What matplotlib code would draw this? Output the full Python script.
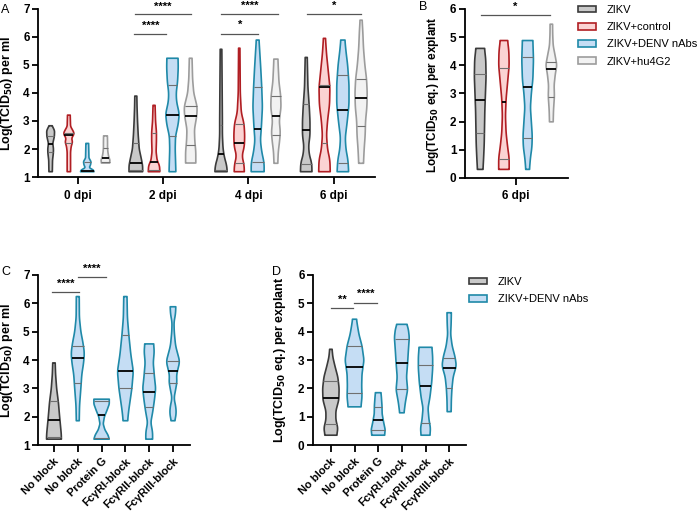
import numpy as np
import matplotlib
matplotlib.use('Agg')
import matplotlib.pyplot as plt
from matplotlib.patches import Patch

plt.rcParams['font.family'] = ['Liberation Sans', 'DejaVu Sans']
plt.rcParams['font.size'] = 8
plt.rcParams['font.weight'] = 'bold'
plt.rcParams['axes.labelweight'] = 'bold'

# ---- data -------------------------------------------------------------
days = ['0 dpi', '2 dpi', '4 dpi', '6 dpi']
groups = ['ZIKV', 'ZIKV+control', 'ZIKV+DENV nAbs', 'ZIKV+hu4G2']
blocks = ['No block', 'No block', 'Protein G', 'FcγRI-block', 'FcγRII-block', 'FcγRIII-block']

# violin outlines: (value, relative density) pairs, min -> max
# quartiles: (q1, median, q3)
a_zikv_shape = [
    [(1.19, .25), (1.6, .28), (1.85, .4), (2.0, .42), (2.2, .32), (2.45, .55), (2.65, .58), (2.8, .3), (2.83, .2)],
    [(1.19, 1.0), (1.4, 1.0), (1.6, .85), (2.0, .5), (2.5, .35), (3.0, .25), (3.5, .18), (3.89, .15)],
    [(1.19, .9), (1.4, .85), (1.7, .5), (2.0, .3), (2.5, .2), (3.0, .2), (4.0, .17), (5.56, .12)],
    [(1.19, .85), (1.5, .8), (1.8, .45), (2.1, .35), (2.5, .55), (3.0, .55), (3.5, .45), (4.2, .25), (5.27, .15)],
]
a_zikv_q = [(1.88, 2.18, 2.45), (1.25, 1.5, 2.2), (1.25, 1.82, 2.86), (1.45, 2.68, 3.62)]

a_ctrl_shape = [
    [(1.19, .25), (1.9, .25), (2.1, .35), (2.25, .55), (2.38, .4), (2.55, .8), (2.68, .55), (2.8, .25), (3.21, .2)],
    [(1.19, .85), (1.4, .8), (1.6, .45), (1.9, .3), (2.3, .35), (2.6, .35), (3.0, .22), (3.56, .15)],
    [(1.19, .75), (1.45, .7), (1.75, .4), (2.1, .75), (2.5, .8), (2.9, .7), (3.3, .3), (4.0, .15), (5.6, .1)],
    [(1.19, .85), (1.6, .8), (2.0, .45), (2.5, .3), (3.0, .45), (3.6, .75), (4.2, .8), (4.8, .55), (5.4, .3), (5.95, .15)],
]
a_ctrl_q = [(2.22, 2.5, 2.58), (1.25, 1.55, 2.57), (1.5, 2.2, 2.88), (2.2, 4.23, 4.3)]

a_denv_shape = [
    [(1.19, 1.0), (1.25, .9), (1.33, .3), (1.45, .5), (1.55, .55), (1.68, .25), (2.2, .2)],
    [(1.19, .5), (1.6, .45), (2.0, .4), (2.45, .45), (2.9, .85), (3.25, 1.0), (3.7, .6), (4.0, .55), (4.4, .75), (4.9, .85), (5.24, .82)],
    [(1.19, .95), (1.5, .95), (1.9, .6), (2.3, .4), (2.8, .55), (3.5, .7), (4.2, .6), (4.9, .45), (5.5, .3), (5.89, .2)],
    [(1.19, .85), (1.6, .75), (2.0, .45), (2.4, .35), (3.0, .65), (3.6, .9), (4.3, .9), (5.0, .7), (5.5, .45), (5.89, .3)],
]
a_denv_q = [(1.2, 1.22, 1.55), (2.45, 3.2, 4.28), (1.55, 2.7, 4.2), (1.5, 3.38, 4.63)]

a_hu_shape = [
    [(1.5, .6), (1.6, .65), (1.75, .45), (1.9, .35), (2.05, .3), (2.25, .3), (2.47, .28)],
    [(1.5, .75), (1.9, .75), (2.3, .6), (2.7, .55), (3.2, .9), (3.5, .95), (4.0, .45), (4.5, .28), (5.24, .2)],
    [(1.49, .28), (1.9, .35), (2.3, .55), (2.6, .65), (3.0, .5), (3.5, .75), (3.9, .7), (4.4, .45), (4.9, .35), (5.21, .3)],
    [(1.49, .35), (2.0, .45), (2.5, .6), (3.0, .65), (3.5, .85), (4.0, .9), (4.5, .8), (5.0, .55), (5.6, .35), (6.2, .25), (6.6, .15)],
]
a_hu_q = [(1.55, 1.67, 2.05), (2.15, 3.17, 3.52), (2.5, 3.18, 3.88), (2.83, 3.83, 4.5)]

b_shape = [
    [(0.3, .45), (0.7, .55), (1.2, .65), (1.8, .7), (2.4, .75), (3.0, .85), (3.6, .95), (4.2, .9), (4.6, .7)],
    [(0.3, .85), (0.7, .85), (1.1, .6), (1.6, .35), (2.2, .25), (2.8, .35), (3.4, .6), (4.0, .85), (4.5, .8), (4.88, .6)],
    [(0.3, .3), (0.7, .45), (1.1, .7), (1.5, .75), (2.0, .6), (2.5, .45), (3.0, .6), (3.5, .85), (4.2, .95), (4.88, .85)],
    [(1.99, .3), (2.4, .35), (2.9, .5), (3.3, .45), (3.7, .65), (4.0, .9), (4.3, .65), (4.7, .3), (5.1, .22), (5.46, .2)],
]
b_q = [(1.6, 2.78, 3.68), (0.67, 2.7, 3.92), (1.42, 3.22, 4.3), (2.88, 3.88, 4.12)]

c_shape = [
    [(1.21, .92), (1.4, .9), (1.7, .8), (2.0, .7), (2.5, .55), (3.0, .33), (3.5, .2), (3.9, .15)],
    [(1.86, .18), (2.4, .22), (3.0, .38), (3.5, .5), (3.9, .72), (4.25, .82), (4.6, .65), (5.0, .38), (5.5, .2), (6.24, .18)],
    [(1.21, .95), (1.35, .8), (1.55, .4), (1.75, .2), (2.0, .35), (2.25, .7), (2.45, .95), (2.62, .95)],
    [(1.86, .28), (2.2, .4), (2.6, .6), (3.0, .8), (3.6, .98), (4.2, .67), (4.9, .42), (5.5, .25), (6.24, .2)],
    [(1.21, .42), (1.45, .42), (1.8, .2), (2.2, .45), (2.6, .65), (3.0, .8), (3.4, .65), (3.9, .5), (4.3, .62), (4.57, .55)],
    [(1.86, .22), (2.1, .4), (2.35, .35), (2.65, .12), (3.0, .35), (3.25, .5), (3.45, .42), (3.95, .83), (4.5, .32),
     (5.0, .15), (5.35, .12), (5.6, .3), (5.88, .35)],
]
c_q = [(1.28, 1.87, 2.55), (3.2, 4.08, 4.48), (1.25, 2.07, 2.55), (3.0, 3.62, 4.88), (2.35, 2.88, 3.53), (3.2, 3.62, 3.95)]

d_shape = [
    [(0.35, .6), (0.6, .7), (0.9, .5), (1.2, .5), (1.6, .8), (2.0, .83), (2.4, .7), (2.8, .4), (3.1, .2), (3.38, .12)],
    [(1.35, .65), (1.7, .75), (2.1, .72), (2.5, .75), (3.0, .95), (3.5, .75), (3.9, .45), (4.2, .3), (4.44, .2)],
    [(0.35, .65), (0.55, .7), (0.8, .55), (1.1, .4), (1.4, .38), (1.7, .32), (1.85, .28)],
    [(1.14, .22), (1.5, .35), (1.95, .58), (2.4, .47), (2.9, .58), (3.3, .65), (3.8, .75), (4.1, .65), (4.26, .5)],
    [(0.35, .45), (0.6, .5), (0.9, .35), (1.3, .25), (1.7, .45), (2.2, .62), (2.7, .72), (3.1, .72), (3.45, .65)],
    [(1.18, .2), (1.6, .22), (2.0, .28), (2.4, .4), (2.8, .72), (3.1, .6), (3.5, .3), (3.9, .15), (4.3, .2), (4.67, .22)],
]
d_q = [(0.73, 1.67, 2.25), (1.83, 2.77, 3.5), (0.55, 0.88, 1.35), (1.98, 2.9, 3.73), (0.78, 2.08, 2.82), (2.02, 2.73, 3.08)]

edges = ['#3b3b3b', '#b01e23', '#1f89a8', '#9c9c9c']
fills = ['#c9c9c9', '#fbd3d3', '#c5ddf4', '#f2f2f2']


def violin(ax, pos, shape, quart, half, fc, ec):
    v = np.array([p[0] for p in shape])
    d = np.array([p[1] for p in shape])
    y = np.linspace(v[0], v[-1], 300)
    w = np.interp(y, v, d)
    k = 21
    w = np.convolve(np.pad(w, k // 2, mode='edge'), np.ones(k) / k, mode='valid') * half
    ax.fill(np.r_[pos - w, (pos + w)[::-1]], np.r_[y, y[::-1]], fc=fc, ec=ec, lw=1.2, joinstyle='round', zorder=2)
    for i, q in enumerate(quart):
        hw = np.interp(q, y, w)
        if i == 1:
            ax.plot([pos - hw, pos + hw], [q, q], color='black', lw=1.3, zorder=3, solid_capstyle='butt')
        else:
            ax.plot([pos - hw, pos + hw], [q, q], color='#707070', lw=0.8, zorder=3, solid_capstyle='butt')


def sig(ax, x0, x1, y, txt, dy):
    ax.plot([x0, x1], [y, y], color='#555555', lw=0.9, clip_on=False)
    ax.text((x0 + x1) / 2, y + dy, txt, ha='center', va='center', fontsize=8, clip_on=False)


def style(ax):
    for s in ['top', 'right']:
        ax.spines[s].set_visible(False)
    for s in ['left', 'bottom']:
        ax.spines[s].set_linewidth(1.3)
    ax.tick_params(width=1.3, length=4, labelsize=8.5, pad=2)


fig = plt.figure(figsize=(7, 5.14), dpi=100)

# ---- A ----
axA = fig.add_axes([0.0543, 0.6556, 0.482, 0.327])
offs = [-0.322, -0.108, 0.108, 0.322]
a_shapes = [a_zikv_shape, a_ctrl_shape, a_denv_shape, a_hu_shape]
a_qs = [a_zikv_q, a_ctrl_q, a_denv_q, a_hu_q]
for g in range(4):
    for t in range(4):
        violin(axA, t + offs[g], a_shapes[g][t], a_qs[g][t], 0.08, fills[g], edges[g])
axA.set_xlim(-0.47, 3.49)
axA.set_ylim(1, 7)
axA.set_xticks(range(4))
axA.set_xticklabels(days)
axA.set_yticks(range(1, 8))
axA.set_ylabel('Log(TCID$_{50}$) per ml', fontsize=9)
axA.yaxis.set_label_coords(-0.068, 0.5)
style(axA)
axA.tick_params(axis='x', length=5, pad=4)
sig(axA, 1 - 0.338, 1 + 0.035, 6.12, '****', 0.27)
sig(axA, 1 - 0.33, 1 + 0.32, 6.82, '****', 0.27)
sig(axA, 2 - 0.318, 2 + 0.114, 6.12, '*', 0.3)
sig(axA, 2 - 0.318, 2 + 0.345, 6.83, '****', 0.27)
sig(axA, 3 - 0.31, 3 + 0.32, 6.83, '*', 0.27)

# ---- B ----
axB = fig.add_axes([0.664, 0.654, 0.147, 0.3285])
for g in range(4):
    violin(axB, [-1.5, -0.5, 0.5, 1.5][g], b_shape[g], b_q[g], 0.26, fills[g], edges[g])
axB.set_xlim(-2.15, 2.19)
axB.set_ylim(0, 6)
axB.set_xticks([0])
axB.set_xticklabels(['6 dpi'])
axB.set_yticks(range(0, 7))
axB.set_ylabel('Log(TCID$_{50}$ eq.) per explant', fontsize=8.5)
axB.yaxis.set_label_coords(-0.235, 0.49)
style(axB)
axB.tick_params(axis='x', length=5, pad=4)
sig(axB, -1.45, 1.43, 5.79, '*', 0.29)

fig.legend(handles=[Patch(fc=fills[i], ec=edges[i], lw=1.2) for i in range(4)], labels=groups,
           loc='upper left', bbox_to_anchor=(578 / 700, 1 - 5 / 514), frameon=False,
           borderpad=0, borderaxespad=0, handlelength=1.6, handleheight=0.55,
           handletextpad=1.0, labelspacing=0.65, prop={'weight': 'normal', 'size': 8})

# ---- C ----
c_cols = [0, 2, 2, 2, 2, 2]
axC = fig.add_axes([0.0543, 0.134, 0.217, 0.331])
for i in range(6):
    violin(axC, i, c_shape[i], c_q[i], 0.34, fills[c_cols[i]], edges[c_cols[i]])
axC.set_xlim(-0.67, 5.71)
axC.set_ylim(1, 7)
axC.set_yticks(range(1, 8))
axC.set_xticks(range(6))
axC.set_xticklabels(blocks, rotation=45, ha='right', rotation_mode='anchor')
axC.set_ylabel('Log(TCID$_{50}$) per ml', fontsize=9)
axC.yaxis.set_label_coords(-0.15, 0.5)
style(axC)
axC.tick_params(axis='x', length=5, pad=3, labelsize=8)
sig(axC, -0.1, 1.05, 6.39, '****', 0.29)
sig(axC, 1.01, 2.2, 6.92, '****', 0.29)

# ---- D ----
axD = fig.add_axes([0.447, 0.134, 0.219, 0.331])
for i in range(6):
    violin(axD, i, d_shape[i], d_q[i], 0.42, fills[c_cols[i]], edges[c_cols[i]])
axD.set_xlim(-0.76, 5.72)
axD.set_ylim(0, 6)
axD.set_yticks(range(0, 7))
axD.set_xticks(range(6))
axD.set_xticklabels(blocks, rotation=45, ha='right', rotation_mode='anchor')
axD.set_ylabel('Log(TCID$_{50}$ eq.) per explant', fontsize=9)
axD.yaxis.set_label_coords(-0.163, 0.5)
style(axD)
axD.tick_params(axis='x', length=5, pad=3, labelsize=8)
sig(axD, 0, 0.94, 4.82, '**', 0.3)
sig(axD, 0.99, 1.94, 5.02, '****', 0.3)

fig.legend(handles=[Patch(fc=fills[i], ec=edges[i], lw=1.2) for i in (0, 2)], labels=[groups[0], groups[2]],
           loc='upper left', bbox_to_anchor=(469 / 700, 1 - 277 / 514), frameon=False,
           borderpad=0, borderaxespad=0, handlelength=1.6, handleheight=0.55,
           handletextpad=1.0, labelspacing=0.65, prop={'weight': 'normal', 'size': 8})

for lab, x, y in [('A', 0.002, 0.992), ('B', 0.599, 0.999), ('C', 0.002, 0.482), ('D', 0.388, 0.482)]:
    fig.text(x, y, lab, fontsize=9, fontweight='normal', va='top')

fig.savefig('out.png', dpi=100)
